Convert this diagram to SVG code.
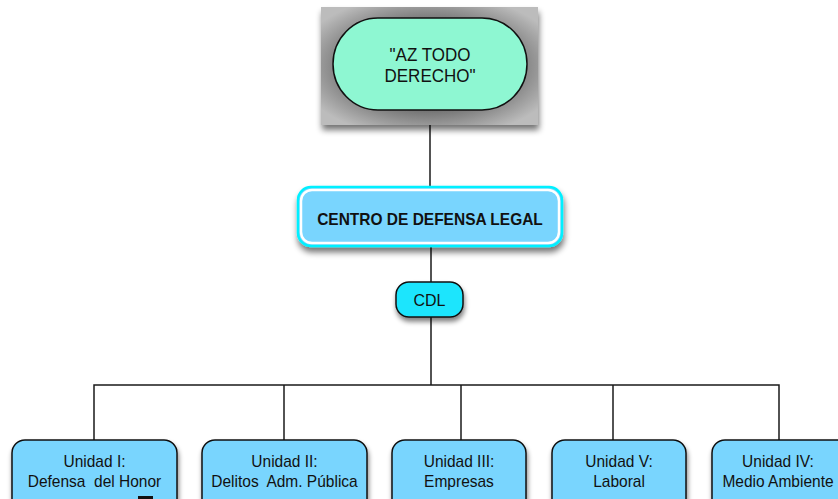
<svg xmlns="http://www.w3.org/2000/svg" width="838" height="499" viewBox="0 0 838 499">
  <defs>
    <radialGradient id="grayBg" cx="50%" cy="50%" r="62%">
      <stop offset="0" stop-color="#3a3a3a"/>
      <stop offset="0.6" stop-color="#727272"/>
      <stop offset="1" stop-color="#bcbcbc"/>
    </radialGradient>
    <filter id="shadow" x="-20%" y="-20%" width="140%" height="150%">
      <feGaussianBlur in="SourceAlpha" stdDeviation="3"/>
      <feOffset dx="1" dy="5" result="b"/>
      <feComponentTransfer><feFuncA type="linear" slope="0.55"/></feComponentTransfer>
      <feMerge><feMergeNode/><feMergeNode in="SourceGraphic"/></feMerge>
    </filter>
    <filter id="shadowS" x="-20%" y="-30%" width="140%" height="170%">
      <feGaussianBlur in="SourceAlpha" stdDeviation="2.5"/>
      <feOffset dx="1" dy="4" result="b"/>
      <feComponentTransfer><feFuncA type="linear" slope="0.5"/></feComponentTransfer>
      <feMerge><feMergeNode/><feMergeNode in="SourceGraphic"/></feMerge>
    </filter>
  </defs>
  <style>
    .line { stroke: #1a1a1a; stroke-width: 1.5; fill: none; }
    .unit { fill: #79d5fe; stroke: #111; stroke-width: 1.5; }
    .t { font-family: "Liberation Sans", Arial, Helvetica, sans-serif; fill: #111; text-anchor: middle; }
    .ut { font-size: 15.5px; }
  </style>

  <g id="connectors">
    <line class="line" x1="430" y1="110" x2="430" y2="188"/>
    <line class="line" x1="431" y1="246" x2="431" y2="283"/>
    <line class="line" x1="431" y1="317" x2="431" y2="385"/>
    <polyline class="line" points="94,440 94,385 779,385 779,440"/>
    <line class="line" x1="284" y1="385" x2="284" y2="440"/>
    <line class="line" x1="461" y1="385" x2="461" y2="440"/>
    <line class="line" x1="613" y1="385" x2="613" y2="440"/>
  </g>

  <g id="node-az">
    <rect x="321" y="7" width="217" height="118" fill="url(#grayBg)" filter="url(#shadow)"/>
    <rect x="333" y="18" width="194" height="92" rx="45" ry="46" fill="#8ef7d2" stroke="#111" stroke-width="1.5"/>
    <text class="t" transform="translate(430,61) scale(1,1.08)" font-size="17">"AZ TODO</text>
    <text class="t" transform="translate(430,82) scale(1,1.08)" font-size="17">DERECHO"</text>
  </g>

  <g id="node-centro">
    <rect x="298" y="187" width="264" height="59" rx="13" fill="#79d5fe" stroke="#00f0ff" stroke-width="2.5" filter="url(#shadow)"/>
    <rect x="301" y="190" width="258" height="53" rx="11" fill="#79d5fe" stroke="#ffffff" stroke-width="2.5"/>
    <text class="t" transform="translate(430,225) scale(1,1.12)" font-size="15.5" font-weight="bold">CENTRO DE DEFENSA LEGAL</text>
  </g>

  <g id="node-cdl">
    <rect x="396" y="282" width="67" height="35" rx="13" fill="#1ee5fd" stroke="#111" stroke-width="1.5" filter="url(#shadowS)"/>
    <text class="t" x="429.5" y="305.5" font-size="16">CDL</text>
  </g>

  <g id="node-u1">
    <rect class="unit" x="12" y="440" width="165" height="75" rx="13" filter="url(#shadowS)"/>
    <text class="t ut" transform="translate(94.5,467) scale(1,1.08)">Unidad I:</text>
    <text class="t ut" transform="translate(94.5,487) scale(1,1.08)" xml:space="preserve">Defensa  del Honor</text>
    <rect x="138" y="496" width="15" height="3" fill="#111"/>
  </g>

  <g id="node-u2">
    <rect class="unit" x="202" y="440" width="165" height="75" rx="13" filter="url(#shadowS)"/>
    <text class="t ut" transform="translate(284.5,467) scale(1,1.08)">Unidad II:</text>
    <text class="t ut" transform="translate(284.5,487) scale(1,1.08)" xml:space="preserve">Delitos  Adm. Pública</text>
  </g>

  <g id="node-u3">
    <rect class="unit" x="392" y="440" width="134" height="75" rx="13" filter="url(#shadowS)"/>
    <text class="t ut" transform="translate(459,467) scale(1,1.08)">Unidad III:</text>
    <text class="t ut" transform="translate(459,487) scale(1,1.08)">Empresas</text>
  </g>

  <g id="node-u5">
    <rect class="unit" x="552" y="440" width="134" height="75" rx="13" filter="url(#shadowS)"/>
    <text class="t ut" transform="translate(619,467) scale(1,1.08)">Unidad V:</text>
    <text class="t ut" transform="translate(619,487) scale(1,1.08)">Laboral</text>
  </g>

  <g id="node-u4">
    <rect class="unit" x="712" y="440" width="140" height="75" rx="13" filter="url(#shadowS)"/>
    <text class="t ut" transform="translate(778,467) scale(1,1.08)">Unidad IV:</text>
    <text class="t ut" transform="translate(778,487) scale(1,1.08)">Medio Ambiente</text>
  </g>
</svg>
